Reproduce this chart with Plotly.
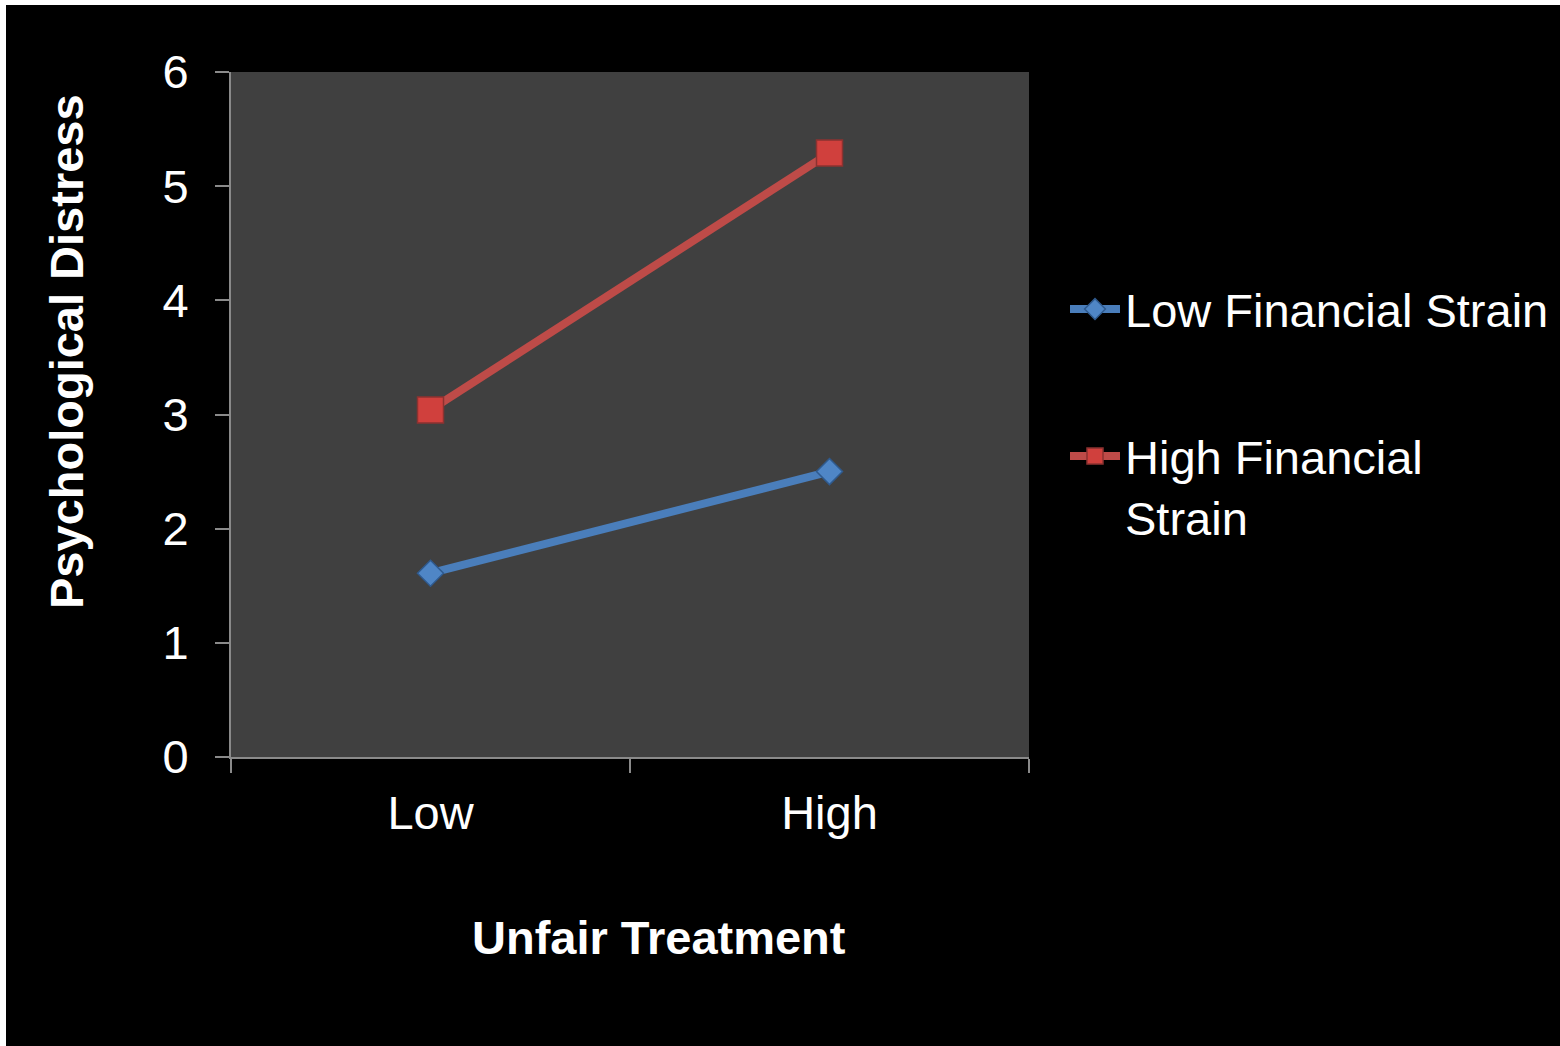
import plotly.graph_objects as go

# Chart data
treatment_levels = ["Low", "High"]
low_strain = [1.61, 2.50]
high_strain = [3.04, 5.29]
y_ticks = [0, 1, 2, 3, 4, 5, 6]

W, H = 1560, 1046
L, R, T, B = 231, 531, 72, 289
PW, PH = W - L - R, H - T - B

FONT = "Liberation Sans, Arial, sans-serif"
FS = 47


def px_x(px):
    return (px - L) / PW


def px_y(py):
    return (H - B - py) / PH


fig = go.Figure()

fig.add_trace(go.Scatter(
    x=treatment_levels, y=low_strain, mode="lines+markers",
    name="Low Financial Strain", legend="legend",
    line=dict(color="#4A7EBB", width=8),
    marker=dict(symbol="diamond", size=20, color="#4F86C6",
                line=dict(color="#2F5A8E", width=1.5)),
))
fig.add_trace(go.Scatter(
    x=treatment_levels, y=high_strain, mode="lines+markers",
    name="High Financial<br>Strain", legend="legend2",
    line=dict(color="#BE4B48", width=8),
    marker=dict(symbol="square", size=26, color="#D0403D",
                line=dict(color="#8C3230", width=1.5)),
))

axis_line = "#8A8A8A"
fig.update_xaxes(
    type="category", range=[-0.5, 1.5], tickson="boundaries",
    ticks="outside", ticklen=14, tickwidth=2, tickcolor=axis_line,
    showline=True, linecolor=axis_line, linewidth=2,
    showgrid=False, zeroline=False,
    tickfont=dict(family=FONT, size=FS, color="white"),
    ticklabelstandoff=14,
)
fig.update_yaxes(
    range=[0, 6], tickvals=y_ticks,
    ticks="outside", ticklen=14, tickwidth=2, tickcolor=axis_line,
    showline=True, linecolor=axis_line, linewidth=2,
    showgrid=False, zeroline=False,
    tickfont=dict(family=FONT, size=FS, color="white"),
    ticklabelstandoff=17,
)

legend_common = dict(
    font=dict(family=FONT, size=FS, color="white"),
    bgcolor="rgba(0,0,0,0)", borderwidth=0,
    xanchor="left", yanchor="top", valign="top",
    itemwidth=50,
)

fig.update_layout(
    width=W, height=H,
    margin=dict(l=L, r=R, t=T, b=B, autoexpand=False),
    paper_bgcolor="black", plot_bgcolor="#404040",
    showlegend=True,
    legend=dict(x=px_x(1065), y=px_y(272), **legend_common),
    legend2=dict(x=px_x(1065), y=px_y(419), **legend_common),
    annotations=[
        dict(text="<b>Unfair Treatment</b>", xref="paper", yref="paper",
             x=px_x(659), y=px_y(937), xanchor="center", yanchor="middle",
             showarrow=False, font=dict(family=FONT, size=FS, color="white")),
        dict(text="<b>Psychological Distress</b>", xref="paper", yref="paper",
             x=px_x(67), y=px_y(352), xanchor="center", yanchor="middle",
             textangle=-90, showarrow=False,
             font=dict(family=FONT, size=FS, color="white")),
    ],
    shapes=[
        # thin white frame on the top and left edges
        dict(type="rect", xref="paper", yref="paper", layer="above",
             x0=px_x(0), x1=px_x(6), y0=px_y(H), y1=px_y(0),
             fillcolor="white", line=dict(width=0)),
        dict(type="rect", xref="paper", yref="paper", layer="above",
             x0=px_x(0), x1=px_x(W), y0=px_y(5), y1=px_y(0),
             fillcolor="white", line=dict(width=0)),
    ],
)

fig.write_html("out.html")
